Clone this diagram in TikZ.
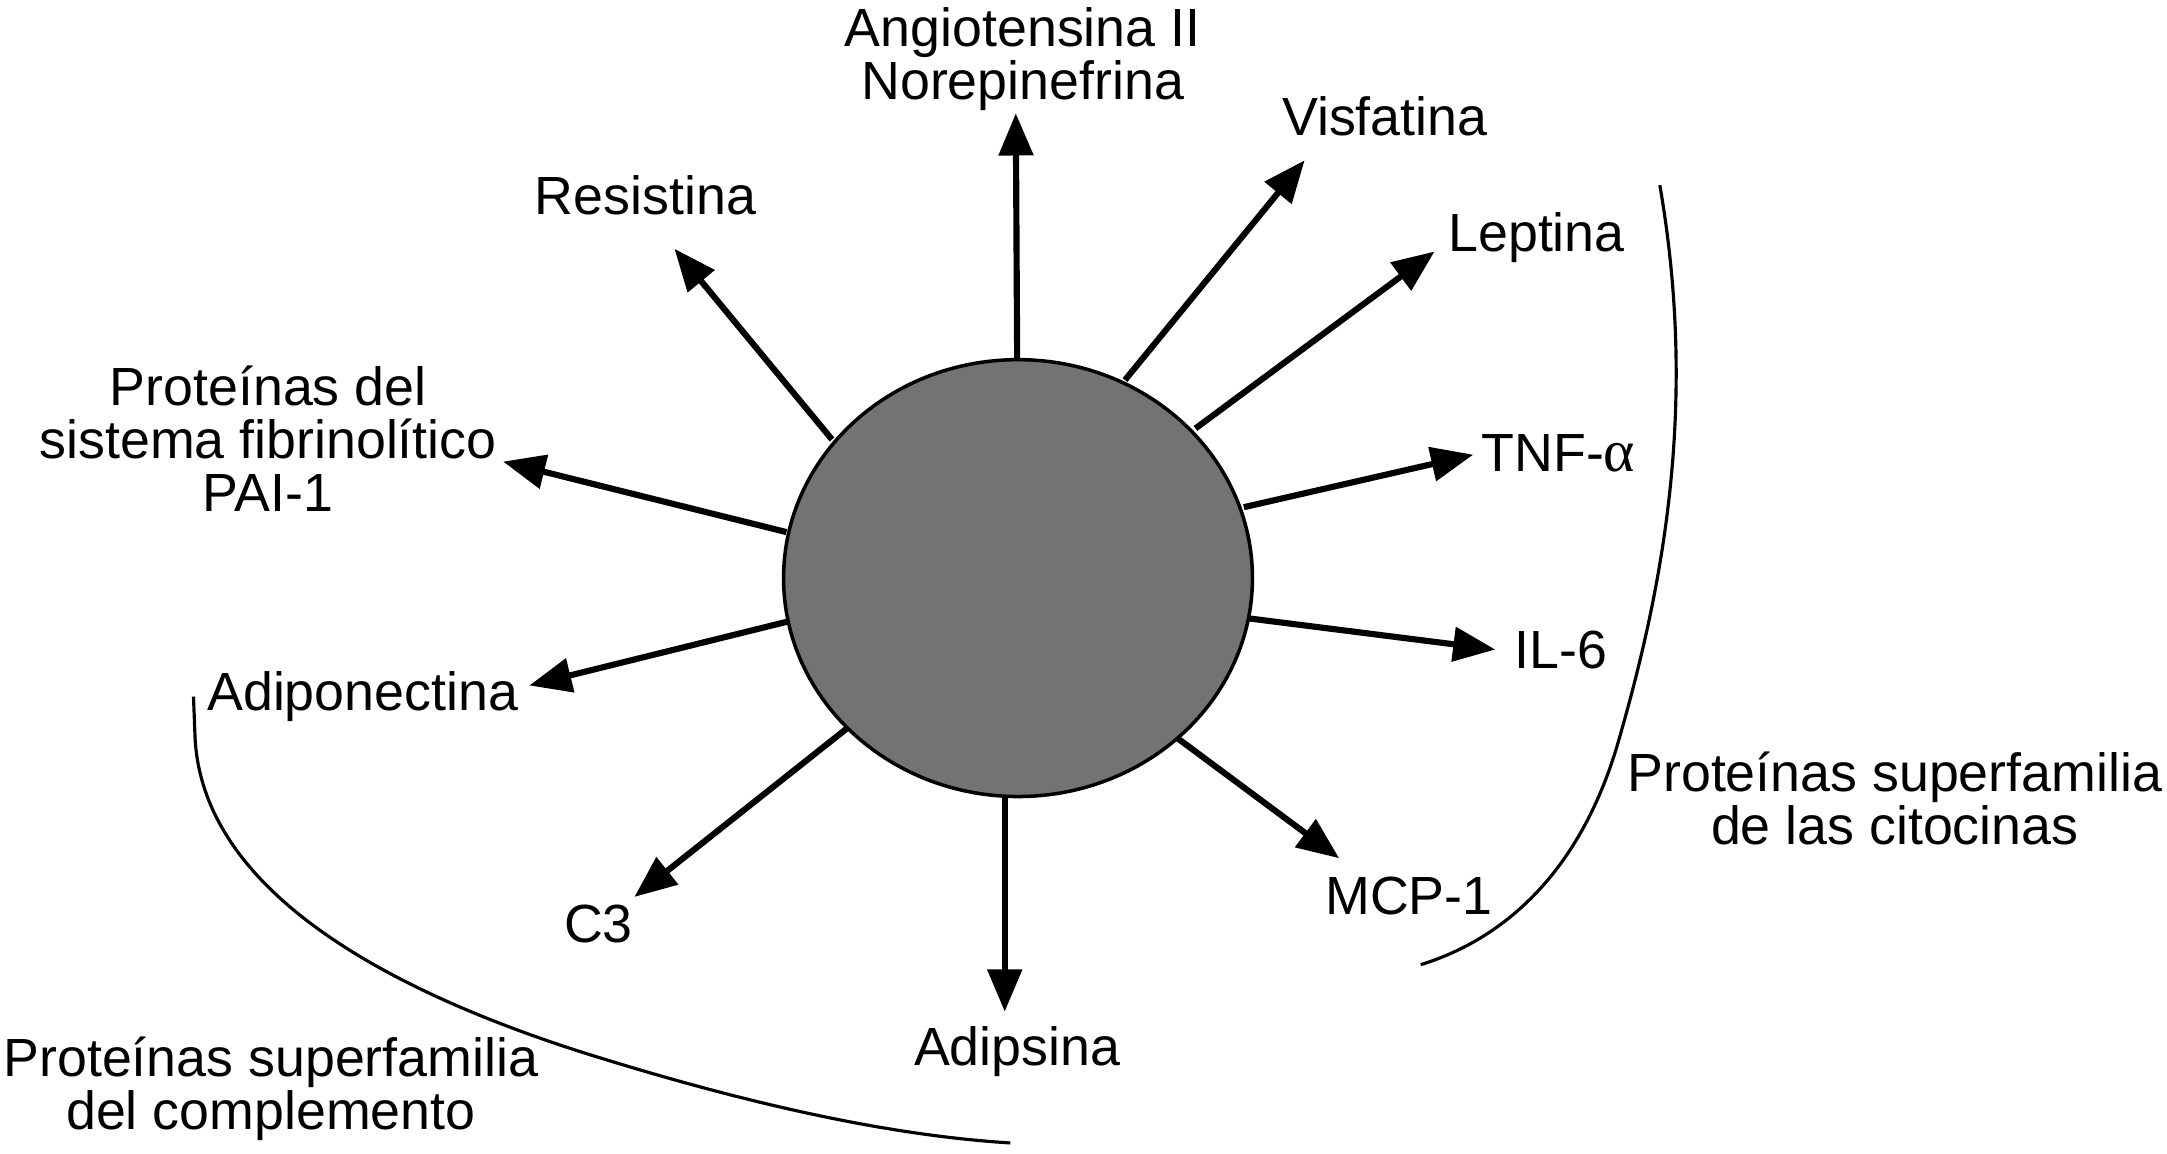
\documentclass[tikz,border=0pt]{standalone}
\usepackage{fontspec}
\setmainfont{Liberation Sans}
\newfontfamily\greekserif{Liberation Serif}
\usetikzlibrary{arrows.meta,backgrounds,shapes.geometric}
\definecolor{cellgray}{RGB}{115,115,115}
\begin{document}
\begin{tikzpicture}[x=0.01382cm,y=-0.01382cm,
  lbl/.style={inner sep=0pt,outer sep=0pt,align=center,font=\fontsize{15.3}{15.1}\selectfont},
  ray/.style={line width=1.75pt,-{Triangle[length=12pt,width=9.6pt]}},
  bracket/.style={line width=0.9pt},
  cell/.style={ellipse,draw=black,line width=1pt,fill=cellgray,inner sep=0pt,outer sep=0pt,
    minimum width=4.69cm,minimum height=4.37cm}]
\useasboundingbox (0,0) rectangle (1568,835);
\node[cell] (cel) at (736.6,418.3) {};
% start points on the cell border and arrow tips
\coordinate (s1) at (736,262);   \coordinate (t1) at (735,82);
\coordinate (s2) at (602,318);   \coordinate (t2) at (488,180);
\coordinate (s3) at (814,275);   \coordinate (t3) at (944,116);
\coordinate (s4) at (865,310);   \coordinate (t4) at (1038,182);
\coordinate (s5) at (900,367);   \coordinate (t5) at (1066,329);
\coordinate (s6) at (900,447);   \coordinate (t6) at (1082,470);
\coordinate (s7) at (841,526);   \coordinate (t7) at (969,621);
\coordinate (s8) at (727,574);   \coordinate (t8) at (727,732);
\coordinate (s9) at (623,519);   \coordinate (t9) at (459,649);
\coordinate (s10) at (573,449);  \coordinate (t10) at (383,496);
\coordinate (s11) at (569,385);  \coordinate (t11) at (364,334);
\begin{scope}[on background layer]
\foreach \i in {1,...,11} \draw[ray] (s\i) -- (t\i);
\end{scope}
% labels (base anchor of a multi-line label = baseline of its last line)
\node[lbl,anchor=base] (angio) at (740,72) {Angiotensina II\\Norepinefrina};
\node[lbl,anchor=base] (visf) at (1002,98) {Visfatina};
\node[lbl,anchor=base] (resis) at (467,155) {Resistina};
\node[lbl,anchor=base west] (lept) at (1048,182) {Leptina};
\node[lbl,anchor=base west] (tnf) at (1072,341) {TNF-{\greekserif\fontsize{17}{17}\selectfont α}};
\node[lbl,anchor=base west] (il6) at (1096,484) {IL-6};
\node[lbl,anchor=base west] (mcp) at (959,662) {MCP-1};
\node[lbl,anchor=base] (adips) at (736,771) {Adipsina};
\node[lbl,anchor=base] (c3) at (433,682) {C3};
\node[lbl,anchor=base west] (adipo) at (150,514) {Adiponectina};
\node[lbl,anchor=base] (pai) at (194,370) {Proteínas del\\sistema fibrinolítico\\PAI-1};
\node[lbl,anchor=base] (cito) at (1371,611) {Proteínas superfamilia\\de las citocinas};
\node[lbl,anchor=base] (compl) at (196,817) {Proteínas superfamilia\\del complemento};
% brackets
\draw[bracket] (1201,134) .. controls (1228,290) and (1205,420) .. (1170,540)
  .. controls (1140,640) and (1080,682) .. (1028,698);
\draw[bracket] (140,504) -- (141,530) .. controls (143,620) and (230,700) .. (420,761)
  .. controls (550,802) and (650,822) .. (731,827);
\end{tikzpicture}
\end{document}
